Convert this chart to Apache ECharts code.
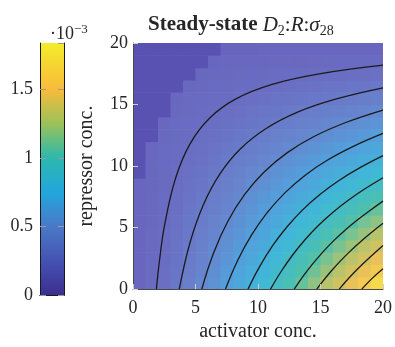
<!DOCTYPE html>
<html>
<head>
<meta charset="utf-8">
<script src="https://cdn.jsdelivr.net/npm/echarts@6/dist/echarts.min.js"></script>
<style>
  html, body { margin: 0; padding: 0; background: #fff; }
  #chart { width: 395px; height: 347px; }
</style>
</head>
<body>
<div id="chart"></div>
<script>
// lower edges of the cells on both axes (conc. units)
const activatorCells = [0, 1, 2, 3, 4, 5, 6, 7, 8, 9, 10, 11, 12, 13, 14, 15, 16, 17, 18, 19];
const repressorCells = [0, 1, 2, 3, 4, 5, 6, 7, 8, 9, 10, 11, 12, 13, 14, 15, 16, 17, 18, 19];

// steady-state D2:R:sigma28 in units of 1e-3, one row per repressor cell, bottom row first
const steadyState = [
  [0.04, 0.13, 0.22, 0.31, 0.40, 0.49, 0.58, 0.67, 0.76, 0.85, 0.94, 1.03, 1.12, 1.21, 1.30, 1.39, 1.48, 1.57, 1.66, 1.75],
  [0.04, 0.13, 0.21, 0.30, 0.38, 0.47, 0.55, 0.64, 0.72, 0.81, 0.89, 0.98, 1.06, 1.15, 1.23, 1.32, 1.40, 1.49, 1.57, 1.66],
  [0.04, 0.12, 0.20, 0.28, 0.36, 0.44, 0.52, 0.60, 0.68, 0.76, 0.85, 0.93, 1.01, 1.09, 1.17, 1.25, 1.33, 1.41, 1.49, 1.57],
  [0.04, 0.11, 0.19, 0.27, 0.34, 0.42, 0.50, 0.57, 0.65, 0.72, 0.80, 0.88, 0.95, 1.03, 1.10, 1.18, 1.25, 1.33, 1.41, 1.48],
  [0.04, 0.11, 0.18, 0.25, 0.32, 0.40, 0.47, 0.54, 0.61, 0.68, 0.75, 0.83, 0.90, 0.97, 1.04, 1.11, 1.18, 1.25, 1.32, 1.39],
  [0.03, 0.10, 0.17, 0.24, 0.31, 0.37, 0.44, 0.51, 0.57, 0.64, 0.71, 0.77, 0.84, 0.91, 0.97, 1.04, 1.10, 1.17, 1.24, 1.30],
  [0.03, 0.10, 0.16, 0.22, 0.29, 0.35, 0.41, 0.47, 0.54, 0.60, 0.66, 0.72, 0.79, 0.85, 0.91, 0.97, 1.03, 1.09, 1.15, 1.21],
  [0.03, 0.09, 0.15, 0.21, 0.27, 0.33, 0.38, 0.44, 0.50, 0.56, 0.62, 0.67, 0.73, 0.79, 0.84, 0.90, 0.96, 1.01, 1.07, 1.12],
  [0.03, 0.08, 0.14, 0.19, 0.25, 0.30, 0.36, 0.41, 0.46, 0.52, 0.57, 0.62, 0.67, 0.73, 0.78, 0.83, 0.88, 0.93, 0.98, 1.03],
  [0.03, 0.08, 0.13, 0.18, 0.23, 0.28, 0.33, 0.38, 0.43, 0.48, 0.52, 0.57, 0.62, 0.67, 0.71, 0.76, 0.81, 0.85, 0.90, 0.94],
  [0.02, 0.07, 0.12, 0.16, 0.21, 0.25, 0.30, 0.34, 0.39, 0.43, 0.48, 0.52, 0.56, 0.61, 0.65, 0.69, 0.73, 0.77, 0.81, 0.85],
  [0.02, 0.06, 0.11, 0.15, 0.19, 0.23, 0.27, 0.31, 0.35, 0.39, 0.43, 0.47, 0.51, 0.54, 0.58, 0.62, 0.66, 0.69, 0.73, 0.76],
  [0.02, 0.06, 0.10, 0.13, 0.17, 0.21, 0.24, 0.28, 0.31, 0.35, 0.38, 0.42, 0.45, 0.48, 0.52, 0.55, 0.58, 0.61, 0.64, 0.67],
  [0.02, 0.05, 0.08, 0.12, 0.15, 0.18, 0.21, 0.24, 0.27, 0.30, 0.33, 0.36, 0.39, 0.42, 0.45, 0.48, 0.51, 0.53, 0.56, 0.59],
  [0.01, 0.04, 0.07, 0.10, 0.13, 0.16, 0.18, 0.21, 0.23, 0.26, 0.29, 0.31, 0.34, 0.36, 0.38, 0.41, 0.43, 0.45, 0.47, 0.50],
  [0.01, 0.04, 0.06, 0.08, 0.11, 0.13, 0.15, 0.17, 0.19, 0.22, 0.24, 0.26, 0.28, 0.30, 0.32, 0.33, 0.35, 0.37, 0.39, 0.41],
  [0.01, 0.03, 0.05, 0.07, 0.08, 0.10, 0.12, 0.14, 0.15, 0.17, 0.19, 0.20, 0.22, 0.23, 0.25, 0.26, 0.28, 0.29, 0.30, 0.32],
  [0.01, 0.02, 0.03, 0.05, 0.06, 0.07, 0.09, 0.10, 0.11, 0.12, 0.13, 0.15, 0.16, 0.17, 0.18, 0.19, 0.20, 0.21, 0.22, 0.23],
  [0.00, 0.01, 0.02, 0.03, 0.04, 0.05, 0.05, 0.06, 0.07, 0.07, 0.08, 0.09, 0.09, 0.10, 0.11, 0.11, 0.12, 0.12, 0.13, 0.14],
  [0.00, 0.00, 0.01, 0.01, 0.01, 0.02, 0.02, 0.02, 0.02, 0.02, 0.03, 0.03, 0.03, 0.03, 0.03, 0.04, 0.04, 0.04, 0.04, 0.04]
];

// how many cells from the left of each row sit in the coarse (darker) mesh patch, bottom row first
const coarseMeshReach = [0, 0, 0, 0, 0, 0, 0, 0, 0, 1, 1, 1, 2, 2, 3, 3, 4, 5, 6, 7];

// colour scale range (x 1e-3) and its tick step
const colorbarMax = 1.84;
const colorbarStep = 0.5;
const axisStep = 5;

// contour lines, [activator, repressor]
const contourLines = [
  [[1.87, 0], [2.14, 2.5], [2.52, 5.16], [3.38, 8.93], [4.55, 11.78], [6.12, 13.89], [8.23, 15.46], [11.07, 16.62], [14.89, 17.49], [20, 18.2]],
  [[3.7, 0], [4.57, 3.81], [5.64, 6.88], [6.97, 9.38], [8.6, 11.4], [10.62, 13.03], [13.12, 14.36], [16.2, 15.43], [20, 16.35]],
  [[5.5, 0], [6.46, 2.97], [7.59, 5.51], [8.92, 7.67], [10.49, 9.51], [12.32, 11.07], [14.48, 12.4], [17.02, 13.54], [20, 14.55]],
  [[7.4, 0], [8.38, 2.34], [9.49, 4.4], [10.75, 6.23], [12.17, 7.84], [13.78, 9.26], [15.6, 10.51], [17.67, 11.62], [20, 12.65]],
  [[9.2, 0], [10.14, 1.85], [11.17, 3.53], [12.31, 5.05], [13.57, 6.44], [14.95, 7.69], [16.48, 8.83], [18.16, 9.87], [20, 10.85]],
  [[11, 0], [11.85, 1.43], [12.77, 2.77], [13.76, 4.01], [14.83, 5.17], [15.98, 6.23], [17.22, 7.22], [18.56, 8.15], [20, 9.05]],
  [[12.9, 0], [13.63, 1.07], [14.39, 2.07], [15.2, 3.03], [16.06, 3.94], [16.96, 4.79], [17.92, 5.6], [18.93, 6.37], [20, 7.15]],
  [[14.7, 0], [15.88, 1.49], [17.15, 2.86], [18.52, 4.13], [20, 5.35]],
  [[16.5, 0], [17.31, 0.94], [18.17, 1.84], [19.06, 2.69], [20, 3.55]],
  [[18.3, 0], [19.13, 0.87], [20, 1.65]]
];

const serif = 'Liberation Serif';
const textColor = '#262626';

// [activator, repressor, value, coarse-mesh flag]
const heatData = [];
steadyState.forEach((row, j) => {
  row.forEach((v, i) => heatData.push([activatorCells[i], repressorCells[j], v, i < coarseMeshReach[j] ? 1 : 0]));
});

const chart = echarts.init(document.getElementById('chart'));

// parula-like stops for the colorbar, keyed by value
const barStops = [
  [0, '#3b2f8f'], [0.25, '#4552b2'], [0.5, '#4a79c8'], [0.75, '#22a6dc'],
  [1.0, '#2db8ad'], [1.25, '#9ac25a'], [1.5, '#f8bb3b'], [1.84, '#f4ec2a']
];

const option = {
  animation: false,
  title: [
    {
      left: 143,
      top: 7,
      text: '{b|Steady-state} {i|D}{sub|2}{n|:}{i|R}{n|:}{i|σ}{sub|28}',
      textStyle: {
        fontWeight: 'normal',
        rich: {
          b: { fontFamily: serif, fontWeight: 'bold', fontSize: 21, color: textColor, lineHeight: 26 },
          i: { fontFamily: serif, fontWeight: 'normal', fontStyle: 'italic', fontSize: 21, color: textColor, lineHeight: 26 },
          n: { fontFamily: serif, fontWeight: 'normal', fontSize: 21, color: textColor, lineHeight: 26 },
          sub: { fontFamily: serif, fontWeight: 'normal', fontSize: 14, color: textColor, lineHeight: 14, verticalAlign: 'bottom' }
        }
      }
    },
    {
      left: 45,
      top: 18,
      text: '{n|·10}{sup|−3}',
      textStyle: {
        fontWeight: 'normal',
        rich: {
          n: { fontFamily: serif, fontWeight: 'normal', fontSize: 18, color: textColor, lineHeight: 22 },
          sup: { fontFamily: serif, fontWeight: 'normal', fontSize: 13, color: textColor, lineHeight: 10, verticalAlign: 'top' }
        }
      }
    }
  ],
  grid: [
    { left: 133, top: 43, width: 253, height: 252 },
    { left: 40, top: 43, width: 24, height: 252 }
  ],
  visualMap: {
    type: 'continuous',
    show: false,
    seriesIndex: 0,
    dimension: 2,
    min: 0,
    max: colorbarMax,
    inRange: {
      color: ['#6864bd', '#6a70c4', '#6884cd', '#52a0dc', '#3fb8d8', '#4cc0ad', '#b4c46c', '#f3c055', '#f3ec45']
    }
  },
  xAxis: [
    {
      gridIndex: 0, type: 'value', min: 0, max: 20, interval: axisStep,
      name: 'activator conc.', nameLocation: 'middle', nameGap: 32,
      nameTextStyle: { fontFamily: serif, fontSize: 20, color: textColor },
      axisLine: { show: true, lineStyle: { color: '#4a4a4a' } },
      axisTick: { show: true, inside: true, length: 5, lineStyle: { color: '#d0d0d0' } },
      axisLabel: { margin: 10, fontFamily: serif, fontSize: 18, color: textColor },
      splitLine: { show: false },
      z: 6
    },
    {
      gridIndex: 1, type: 'category', data: [''], position: 'bottom',
      axisLine: { show: true, lineStyle: { color: '#1a1a1a' } },
      axisTick: { show: false }, axisLabel: { show: false }, z: 10
    },
    {
      gridIndex: 1, type: 'category', data: [''], position: 'top',
      axisLine: { show: true, lineStyle: { color: '#1a1a1a' } },
      axisTick: { show: false }, axisLabel: { show: false }, z: 10
    }
  ],
  yAxis: [
    {
      gridIndex: 0, type: 'value', min: 0, max: 20, interval: axisStep,
      name: 'repressor conc.', nameLocation: 'middle', nameGap: 36,
      nameTextStyle: { fontFamily: serif, fontSize: 20, color: textColor },
      axisLine: { show: true, lineStyle: { color: '#4a4a4a' } },
      axisTick: { show: true, inside: true, length: 5, lineStyle: { color: '#d0d0d0' } },
      axisLabel: { margin: 5, fontFamily: serif, fontSize: 18, color: textColor },
      splitLine: { show: false },
      z: 6
    },
    {
      gridIndex: 1, type: 'value', min: 0, max: colorbarMax, interval: colorbarStep, position: 'left',
      axisLine: { show: true, lineStyle: { color: '#1a1a1a' } },
      axisTick: { show: true, inside: true, length: 6, lineStyle: { color: '#9a9a9a' } },
      axisLabel: { margin: 7, fontFamily: serif, fontSize: 18, color: textColor, showMaxLabel: false },
      splitLine: { show: false },
      z: 10
    },
    {
      gridIndex: 1, type: 'value', min: 0, max: colorbarMax, interval: colorbarStep, position: 'right',
      axisLine: { show: true, lineStyle: { color: '#1a1a1a' } },
      axisTick: { show: true, inside: true, length: 6, lineStyle: { color: '#9a9a9a' } },
      axisLabel: { show: false },
      splitLine: { show: false },
      z: 10
    }
  ],
  series: [
    {
      type: 'custom',
      xAxisIndex: 0,
      yAxisIndex: 0,
      data: heatData,
      encode: { x: 0, y: 1 },
      clip: true,
      silent: true,
      z: 1,
      renderItem: function (params, api) {
        const a = api.value(0);
        const r = api.value(1);
        const lt = api.coord([a, r + 1]);
        const rb = api.coord([a + 1, r]);
        return {
          type: 'rect',
          shape: { x: lt[0], y: lt[1], width: rb[0] - lt[0] + 0.6, height: rb[1] - lt[1] + 0.6 },
          style: { fill: api.value(3) ? '#5a52b3' : api.visual('color') }
        };
      }
    },
    {
      type: 'bar',
      xAxisIndex: 1,
      yAxisIndex: 1,
      data: [colorbarMax],
      barWidth: '100%',
      silent: true,
      z: 1,
      itemStyle: {
        color: new echarts.graphic.LinearGradient(0, 1, 0, 0,
          barStops.map(s => ({ offset: s[0] / colorbarMax, color: s[1] })))
      }
    }
  ].concat(contourLines.map(line => ({
    type: 'line',
    xAxisIndex: 0,
    yAxisIndex: 0,
    data: line,
    showSymbol: false,
    smooth: 0.4,
    silent: true,
    z: 5,
    lineStyle: { color: '#1b1b1b', width: 1.3 }
  })))
};

chart.setOption(option);
</script>
</body>
</html>
